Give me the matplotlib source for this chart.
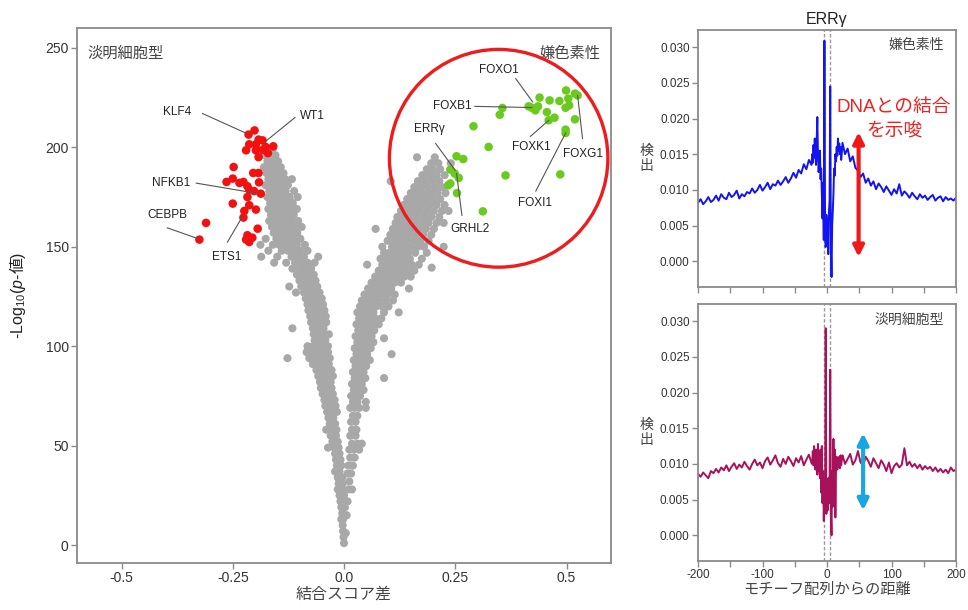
import numpy as np
import matplotlib
matplotlib.use("Agg")
import matplotlib.pyplot as plt
from matplotlib.patches import Ellipse

plt.rcParams['font.family'] = ['Liberation Sans', 'Noto Sans CJK JP']
plt.rcParams['mathtext.fontset'] = 'custom'
plt.rcParams['mathtext.rm'] = 'Liberation Sans'
plt.rcParams['mathtext.it'] = 'Liberation Sans:italic'

# ---------------- Volcano data ----------------
red_x = [-0.2145, -0.201, -0.192, -0.183, -0.198, -0.213, -0.176, -0.159, -0.220, -0.198, -0.183,
         -0.171, -0.192, -0.248, -0.204, -0.192, -0.250, -0.264, -0.235, -0.226, -0.217, -0.191,
         -0.213, -0.202, -0.187, -0.217, -0.250, -0.213, -0.224, -0.198, -0.226, -0.310, -0.325,
         -0.194, -0.217, -0.220, -0.206, -0.213]
red_y = [206.4, 208.5, 203.9, 203.5, 201.5, 201.5, 200.2, 200.5, 198.5, 198.5, 198.8,
         197.1, 195.1, 190.1, 187.1, 187.1, 184.3, 182.6, 182.1, 182.6, 180.4, 182.4,
         178.7, 178.0, 176.7, 175.0, 171.7, 170.9, 168.0, 168.7, 164.7, 162.0, 153.6,
         159.1, 155.8, 153.6, 154.6, 152.4]

green_x = [0.4395, 0.462, 0.484, 0.499, 0.519, 0.525, 0.504, 0.506, 0.498, 0.415, 0.422, 0.430,
           0.436, 0.456, 0.460, 0.473, 0.519, 0.498, 0.498, 0.356, 0.350, 0.291, 0.325, 0.363,
           0.486, 0.312, 0.253, 0.268, 0.239, 0.249, 0.258, 0.239, 0.254, 0.234]
green_y = [225.0, 223.6, 223.3, 228.6, 227.0, 226.1, 224.5, 221.1, 219.9, 220.6, 219.9, 218.6,
           220.6, 217.7, 213.6, 214.9, 214.1, 208.9, 207.2, 219.8, 216.4, 210.6, 200.2, 185.9,
           186.4, 167.8, 195.5, 194.1, 188.8, 186.8, 184.6, 181.8, 177.0, 180.9]

# gray (non-significant) points, read row by row: (y, [x values])
gray_rows_left = [
    (199, [-0.172, -0.160]),
    (196, [-0.178, -0.166, -0.154]),
    (193, [-0.172, -0.160, -0.148]),
    (190, [-0.180, -0.167, -0.155, -0.142]),
    (187, [-0.174, -0.162, -0.150, -0.136]),
    (184, [-0.170, -0.158, -0.146, -0.132, -0.117]),
    (181, [-0.176, -0.164, -0.152, -0.140, -0.126]),
    (178, [-0.168, -0.156, -0.144, -0.131, -0.112]),
    (175, [-0.172, -0.160, -0.148, -0.136, -0.122, -0.104]),
    (172, [-0.166, -0.154, -0.142, -0.128, -0.115]),
    (169, [-0.170, -0.158, -0.146, -0.134, -0.120, -0.106]),
    (166, [-0.164, -0.152, -0.140, -0.127, -0.113]),
    (163, [-0.168, -0.156, -0.144, -0.132, -0.119, -0.103]),
    (160, [-0.162, -0.150, -0.138, -0.125, -0.110, -0.095]),
    (157, [-0.158, -0.146, -0.133, -0.120, -0.105]),
    (154, [-0.176, -0.152, -0.140, -0.128, -0.114, -0.098]),
    (151, [-0.188, -0.160, -0.146, -0.134, -0.120, -0.106, -0.088]),
    (148, [-0.170, -0.140, -0.126, -0.112, -0.098, -0.082]),
    (145, [-0.186, -0.150, -0.118, -0.104, -0.090, -0.058]),
    (142, [-0.157, -0.130, -0.110, -0.096, -0.082, -0.066]),
    (139, [-0.116, -0.100, -0.088, -0.074]),
    (136, [-0.106, -0.094, -0.080, -0.068]),
    (133, [-0.100, -0.088, -0.076, -0.064]),
    (130, [-0.123, -0.096, -0.084, -0.072, -0.060]),
    (127, [-0.108, -0.090, -0.078, -0.066, -0.055]),
    (124, [-0.086, -0.074, -0.062, -0.050]),
    (121, [-0.082, -0.070, -0.058, -0.047]),
    (118, [-0.080, -0.068, -0.056, -0.044]),
    (115, [-0.076, -0.064, -0.052, -0.041]),
    (112, [-0.074, -0.062, -0.050, -0.040]),
    (109, [-0.116, -0.070, -0.058, -0.046]),
    (106, [-0.068, -0.056, -0.044, -0.034]),
    (103, [-0.066, -0.054, -0.042]),
    (100, [-0.082, -0.070, -0.058, -0.046, -0.036]),
    (97, [-0.084, -0.072, -0.060, -0.048, -0.036]),
    (94, [-0.127, -0.078, -0.066, -0.054, -0.042, -0.032]),
    (91, [-0.070, -0.058, -0.046, -0.034]),
    (88, [-0.062, -0.050, -0.038, -0.028]),
    (85, [-0.058, -0.046, -0.034, -0.025]),
    (82, [-0.054, -0.042, -0.030]),
    (79, [-0.052, -0.040, -0.028]),
    (76, [-0.048, -0.036, -0.025]),
    (73, [-0.044, -0.032, -0.021]),
    (70, [-0.042, -0.030, -0.019]),
    (67, [-0.038, -0.026, -0.016]),
    (64, [-0.035, -0.024]),
    (61, [-0.032, -0.020]),
    (58, [-0.040, -0.028, -0.017]),
    (55, [-0.030, -0.018]),
    (52, [-0.026, -0.014]),
    (49, [-0.036, -0.022, -0.012]),
    (46, [-0.020, -0.010]),
    (43, [-0.018, -0.008]),
    (40, [-0.016, -0.006]),
    (37, [-0.020, -0.010]),
    (34, [-0.014, -0.004]),
    (31, [-0.012, -0.003]),
    (28, [-0.014, -0.004]),
    (25, [-0.010, 0.000]),
    (22, [-0.008]),
    (19, [-0.006, 0.002]),
    (16, [-0.004]),
    (13, [-0.002, -0.006]),
    (10, [-0.003]),
    (7, [-0.002]),
    (4, [-0.001]),
    (1, [0.000]),
]
gray_rows_right = [
    (6, [0.004]),
    (15, [0.006]),
    (22, [0.008]),
    (28, [0.010, 0.018]),
    (32, [0.012]),
    (36, [0.008, 0.016]),
    (40, [0.010, 0.020]),
    (44, [0.014, 0.024]),
    (48, [0.012, 0.022, 0.034]),
    (51, [0.018, 0.030, 0.040]),
    (55, [0.014, 0.026]),
    (58, [0.018, 0.028]),
    (62, [0.016, 0.026]),
    (65, [0.020, 0.030]),
    (69, [0.014, 0.024, 0.034, 0.049]),
    (72, [0.020, 0.030, 0.049]),
    (75, [0.016, 0.026, 0.036]),
    (78, [0.022, 0.032, 0.044]),
    (81, [0.018, 0.028, 0.040]),
    (84, [0.024, 0.036, 0.048, 0.090]),
    (87, [0.020, 0.032, 0.044]),
    (90, [0.026, 0.038, 0.050]),
    (93, [0.022, 0.034, 0.046, 0.058]),
    (96, [0.028, 0.040, 0.052, 0.107]),
    (99, [0.024, 0.036, 0.048, 0.060]),
    (102, [0.030, 0.042, 0.054, 0.066]),
    (104, [0.090]),
    (105, [0.026, 0.038, 0.050, 0.062]),
    (108, [0.032, 0.044, 0.056, 0.068]),
    (111, [0.028, 0.040, 0.052, 0.064, 0.078]),
    (114, [0.034, 0.046, 0.058, 0.070, 0.084]),
    (117, [0.030, 0.042, 0.054, 0.066, 0.090, 0.123]),
    (120, [0.036, 0.048, 0.060, 0.072, 0.086, 0.100]),
    (123, [0.040, 0.052, 0.064, 0.078, 0.094, 0.110]),
    (126, [0.046, 0.058, 0.070, 0.084, 0.098, 0.114]),
    (129, [0.054, 0.066, 0.078, 0.092, 0.106, 0.146]),
    (132, [0.062, 0.074, 0.086, 0.100, 0.114, 0.128]),
    (135, [0.070, 0.082, 0.094, 0.108, 0.122, 0.136, 0.150]),
    (138, [0.078, 0.090, 0.102, 0.116, 0.130, 0.144, 0.158]),
    (139.5, [0.197]),
    (141, [0.052, 0.086, 0.098, 0.110, 0.124, 0.138, 0.152, 0.168]),
    (144, [0.082, 0.094, 0.106, 0.120, 0.134, 0.148, 0.175]),
    (147, [0.090, 0.102, 0.116, 0.130, 0.144, 0.160, 0.186]),
    (150, [0.086, 0.108, 0.122, 0.136, 0.150, 0.166, 0.180, 0.224]),
    (153, [0.098, 0.112, 0.126, 0.140, 0.156, 0.172, 0.190]),
    (156, [0.104, 0.118, 0.132, 0.146, 0.162, 0.178, 0.196]),
    (159, [0.071, 0.110, 0.124, 0.138, 0.152, 0.168, 0.184, 0.202]),
    (162, [0.116, 0.130, 0.144, 0.158, 0.174, 0.190, 0.208, 0.224]),
    (165, [0.120, 0.136, 0.150, 0.164, 0.180, 0.196, 0.214]),
    (168, [0.128, 0.142, 0.156, 0.170, 0.186, 0.202, 0.220, 0.235]),
    (171, [0.134, 0.148, 0.162, 0.176, 0.192, 0.208, 0.226]),
    (174, [0.142, 0.156, 0.170, 0.184, 0.200, 0.216]),
    (177, [0.150, 0.164, 0.178, 0.194, 0.210, 0.228]),
    (180, [0.158, 0.172, 0.188, 0.204, 0.220]),
    (183, [0.105, 0.166, 0.182, 0.198, 0.214]),
    (186, [0.176, 0.192, 0.208, 0.226]),
    (189, [0.186, 0.200, 0.216]),
    (192, [0.196, 0.212, 0.240]),
    (195, [0.164, 0.204]),
]
gray_x, gray_y = [], []
for yv, xs in gray_rows_left + gray_rows_right:
    for xv in xs:
        gray_x.append(xv)
        gray_y.append(yv)

# labels: name, text position, line start, line end
labels = [
    ("KLF4",  (-0.374, 218), (-0.318, 217), (-0.219, 207)),
    ("WT1",   (-0.072, 216), (-0.110, 215), (-0.179, 202.5)),
    ("NFKB1", (-0.388, 182), (-0.332, 182), (-0.197, 176.9)),
    ("CEBPB", (-0.397, 166), (-0.397, 159.5), (-0.327, 154)),
    ("ETS1",  (-0.263, 145), (-0.262, 152.3), (-0.228, 165.3)),
    ("FOXO1", (0.349, 239), (0.386, 234.5), (0.424, 222.8)),
    ("FOXB1", (0.243, 220.6), (0.294, 220.6), (0.422, 220.0)),
    ("ERRγ",  (0.191, 209.4), (0.206, 201.9), (0.250, 188.4)),
    ("FOXK1", (0.422, 200.2), (0.419, 205.5), (0.460, 213.6)),
    ("FOXG1", (0.536, 196.8), (0.536, 204.4), (0.525, 226.1)),
    ("FOXI1", (0.430, 172.2), (0.431, 178.0), (0.498, 207.2)),
    ("GRHL2", (0.284, 159.0), (0.265, 165.8), (0.253, 186.8)),
]

vol_xticks = [-0.5, -0.25, 0.0, 0.25, 0.5]
vol_xticklabels = ["-0.5", "-0.25", "0.0", "0.25", "0.5"]
vol_yticks = [0, 50, 100, 150, 200, 250]

# ---------------- Profile data ----------------
prof_x = list(range(-200, -23, 4)) + list(range(-23, 24)) + list(range(24, 201, 4))

chromo = [
    # -200 .. -24 step 4
    0.0082, 0.0087, 0.0080, 0.0084, 0.0090, 0.0083, 0.0086, 0.0092, 0.0085, 0.0094, 0.0089,
    0.0087, 0.0096, 0.0090, 0.0093, 0.0099, 0.0088, 0.0094, 0.0091, 0.0097, 0.0095, 0.0102,
    0.0096, 0.0100, 0.0107, 0.0099, 0.0104, 0.0110, 0.0101, 0.0108, 0.0106, 0.0113, 0.0107,
    0.0112, 0.0118, 0.0110, 0.0116, 0.0124, 0.0117, 0.0128, 0.0123, 0.0136, 0.0129, 0.0142,
    0.0135,
    # -23 .. 23
    0.0150, 0.0138, 0.0163, 0.0145, 0.0172, 0.0150, 0.0135, 0.0168, 0.0202, 0.0150, 0.0125,
    0.0140, 0.0155, 0.0115, 0.0130, 0.0095, 0.0060, 0.0110, 0.0030, 0.0309, 0.0050, 0.0020,
    0.0065, 0.0040, 0.0060, 0.0010, 0.0070, 0.0085, 0.0245, 0.0020, -0.0022, 0.0050, 0.0070,
    0.0095, 0.0130, 0.0120, 0.0150, 0.0140, 0.0160, 0.0148, 0.0172, 0.0155, 0.0165, 0.0150,
    0.0160, 0.0142, 0.0152,
    # 24 .. 200 step 4
    0.0166, 0.0150, 0.0158, 0.0140, 0.0147, 0.0131, 0.0127, 0.0118, 0.0123, 0.0110, 0.0116,
    0.0106, 0.0112, 0.0101, 0.0109, 0.0104, 0.0097, 0.0105, 0.0099, 0.0093, 0.0101, 0.0095,
    0.0108, 0.0092, 0.0098, 0.0094, 0.0089, 0.0096, 0.0091, 0.0087, 0.0094, 0.0089, 0.0092,
    0.0086, 0.0090, 0.0093, 0.0085, 0.0089, 0.0091, 0.0084, 0.0090, 0.0086, 0.0088, 0.0085,
    0.0089,
]

clear = [
    # -200 .. -24 step 4
    0.0086, 0.0082, 0.0088, 0.0084, 0.0080, 0.0090, 0.0087, 0.0093, 0.0088, 0.0095, 0.0091,
    0.0098, 0.0090, 0.0096, 0.0101, 0.0093, 0.0099, 0.0095, 0.0103, 0.0097, 0.0092, 0.0100,
    0.0106, 0.0098, 0.0102, 0.0094, 0.0104, 0.0109, 0.0099, 0.0105, 0.0112, 0.0101, 0.0096,
    0.0107, 0.0100, 0.0110, 0.0104, 0.0097, 0.0108, 0.0102, 0.0111, 0.0098, 0.0106, 0.0113,
    0.0101,
    # -23 .. 23
    0.0100, 0.0118, 0.0098, 0.0125, 0.0105, 0.0092, 0.0120, 0.0100, 0.0085, 0.0128, 0.0090,
    0.0110, 0.0080, 0.0120, 0.0060, 0.0125, 0.0045, 0.0090, 0.0020, 0.0070, 0.0040, 0.0290,
    0.0030, 0.0060, 0.0035, 0.0080, 0.0045, 0.0065, 0.0232, 0.0030, 0.0000, 0.0090, 0.0040,
    0.0135, 0.0050, 0.0120, 0.0025, 0.0095, 0.0110, 0.0092, 0.0108, 0.0096, 0.0110, 0.0094,
    0.0112, 0.0098, 0.0106,
    # 24 .. 200 step 4
    0.0112, 0.0100, 0.0107, 0.0114, 0.0099, 0.0105, 0.0118, 0.0102, 0.0098, 0.0110, 0.0104,
    0.0096, 0.0108, 0.0101, 0.0094, 0.0105, 0.0099, 0.0090, 0.0102, 0.0087, 0.0097, 0.0101,
    0.0095, 0.0099, 0.0122, 0.0098, 0.0103, 0.0096, 0.0100, 0.0094, 0.0099, 0.0092, 0.0097,
    0.0093, 0.0096, 0.0090, 0.0095, 0.0089, 0.0093, 0.0088, 0.0092, 0.0087, 0.0095, 0.0090,
    0.0092,
]

prof_xticks = [-200, -150, -100, -50, 0, 50, 100, 150, 200]
prof_xticklabels = ["-200", "", "-100", "", "0", "", "100", "", "200"]
prof_yticks = [0.000, 0.005, 0.010, 0.015, 0.020, 0.025, 0.030]
prof_yticklabels = ["0.000", "0.005", "0.010", "0.015", "0.020", "0.025", "0.030"]
motif_edges = [-5, 4]

# ---------------- Figure ----------------
W, H = 968, 610
fig = plt.figure(figsize=(W / 100, H / 100), dpi=100)

def fig_rect(l, t, r, b):
    return [l / W, 1 - b / H, (r - l) / W, (b - t) / H]

spine_col = '#8a8a8a'
tick_col = '#333333'

def style_axes(ax, fs):
    for s in ax.spines.values():
        s.set_color(spine_col)
        s.set_linewidth(1.3)
    ax.tick_params(direction='out', length=4, width=1, colors=spine_col,
                   labelcolor=tick_col, labelsize=fs, pad=2)

# Volcano
ax = fig.add_axes(fig_rect(77, 28, 611, 563))
style_axes(ax, 10)
ax.scatter(gray_x, gray_y, s=34, c='#a8a8a8', edgecolors='none', zorder=2)
ax.scatter(red_x, red_y, s=38, c='#f21010', edgecolors='none', zorder=3)
ax.scatter(green_x, green_y, s=38, c='#6acb1e', edgecolors='none', zorder=3)
ax.set_xlim(-0.6, 0.6)
ax.set_ylim(-9, 260)
ax.set_xticks(vol_xticks)
ax.set_xticklabels(vol_xticklabels)
ax.set_yticks(vol_yticks)
ax.set_xlabel("結合スコア差", fontsize=11.5, color='#444444', labelpad=1)
ax.text(0.02, 0.965, "淡明細胞型", transform=ax.transAxes, fontsize=11, color='#444444',
        ha='left', va='top')
ax.text(0.98, 0.965, "嫌色素性", transform=ax.transAxes, fontsize=11, color='#444444',
        ha='right', va='top')
ax.add_patch(Ellipse((0.3475, 194.5), 0.491, 109.5, fill=False, edgecolor='#ee1c1c',
                     linewidth=2.4, zorder=4))
for name, tpos, lstart, lend in labels:
    ax.plot([lstart[0], lend[0]], [lstart[1], lend[1]], color='#555555', lw=0.8, zorder=4)
    ax.text(tpos[0], tpos[1], name, fontsize=8.5, color='#222222', ha='center', va='center',
            zorder=5)

# y label of the volcano: math part + CJK part placed end to end
fig.canvas.draw()
renderer = fig.canvas.get_renderer()
ylab_x = 23
t1 = fig.text(ylab_x / W, 0.5, "-Log$_{10}$($\\mathit{p}$-", rotation=90, rotation_mode='anchor',
              ha='left', va='baseline', fontsize=11.5, color='#222222')
t2 = fig.text(ylab_x / W, 0.5, "値)", rotation=90, rotation_mode='anchor',
              ha='left', va='baseline', fontsize=11.5, color='#222222')
h1 = t1.get_window_extent(renderer).height
h2 = t2.get_window_extent(renderer).height
center_y = H - 295
y0 = center_y - (h1 + h2) / 2
t1.set_position((ylab_x / W, y0 / H))
t2.set_position((ylab_x / W, (y0 + h1) / H))

# Profiles
def profile_panel(rect, yvals, color, label, show_xlabels):
    a = fig.add_axes(rect)
    style_axes(a, 8.5)
    for e in motif_edges:
        a.axvline(e, color='#9a9a9a', lw=1.0, ls=(0, (2.5, 1.5)), zorder=1)
    a.plot(prof_x, yvals, color=color, lw=1.4, zorder=2)
    a.set_xlim(-200, 200)
    a.set_ylim(-0.0036, 0.0324)
    a.set_xticks(prof_xticks)
    if show_xlabels:
        a.set_xticklabels(prof_xticklabels)
    else:
        a.set_xticklabels([""] * len(prof_xticks))
    a.set_yticks(prof_yticks)
    a.set_yticklabels(prof_yticklabels)
    a.text(0.955, 0.94, label, transform=a.transAxes, fontsize=10, color='#444444',
           ha='right', va='center')
    a.text(-0.2, 0.5, "検\n出", transform=a.transAxes, fontsize=10, color='#444444',
           ha='center', va='center', linespacing=1.05)
    return a

ax1 = profile_panel(fig_rect(698, 30, 956, 287), chromo, '#1414f0', "嫌色素性", False)
ax1.set_title("ERRγ", fontsize=11.5, color='#222222', pad=4)
ax1.annotate("", xy=(49, 0.0006), xytext=(49, 0.0181),
             arrowprops=dict(arrowstyle='<|-|>', color='#ee1a1a', lw=3, mutation_scale=16,
                             shrinkA=0, shrinkB=0), zorder=5)
ax1.text(104, 0.0216, "DNAとの結合", fontsize=13.5, color='#ee2222', ha='center', va='center')
ax1.text(104, 0.0181, "を示唆", fontsize=13.5, color='#ee2222', ha='center', va='center')

ax2 = profile_panel(fig_rect(698, 304, 956, 561), clear, '#a8125a', "淡明細胞型", True)
ax2.annotate("", xy=(56, 0.0035), xytext=(56, 0.0143),
             arrowprops=dict(arrowstyle='<|-|>', color='#1aa6e2', lw=3, mutation_scale=16,
                             shrinkA=0, shrinkB=0), zorder=5)
ax2.set_xlabel("モチーフ配列からの距離", fontsize=11, color='#444444', labelpad=1)

fig.savefig("out.png", dpi=100)
